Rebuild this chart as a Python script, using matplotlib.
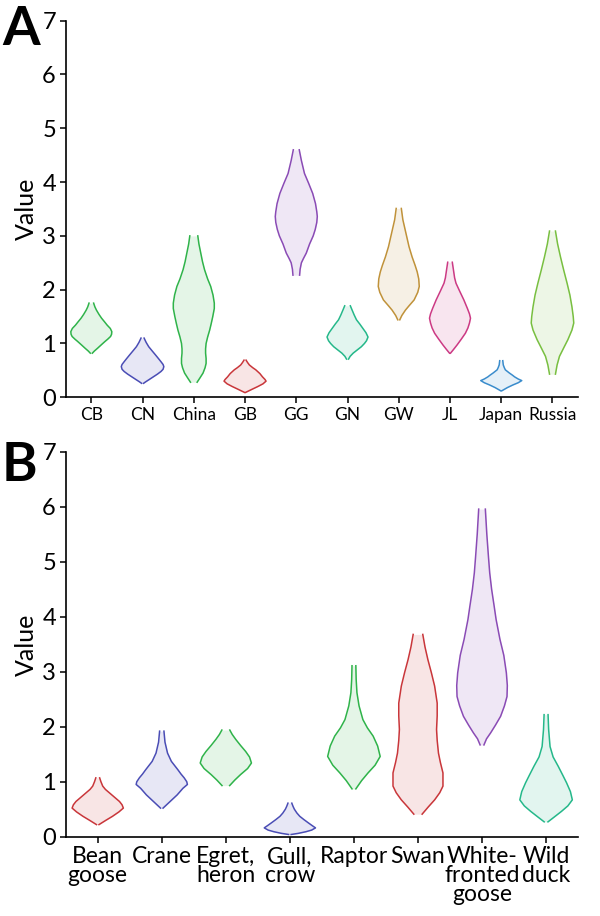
import numpy as np
import matplotlib
matplotlib.use('Agg')
import matplotlib.pyplot as plt

plt.rcParams['font.family'] = ['Lato', 'DejaVu Sans']

# panel A: sites
a_cats = ['CB', 'CN', 'China', 'GB', 'GG', 'GN', 'GW', 'JL', 'Japan', 'Russia']
a_colors = ['#2fb34a', '#4a4db5', '#2fb34a', '#c9363a', '#8a4bb5',
            '#25b88a', '#c0923a', '#cc3a84', '#3a8ccc', '#78bf40']
# violin outlines: value levels and half widths
a_y = [
    [1.75, 1.68, 1.62, 1.54, 1.47, 1.40, 1.34, 1.28, 1.22, 1.17, 1.13, 1.08, 1.04, 0.98, 0.91, 0.86, 0.82],
    [1.10, 1.02, 0.94, 0.87, 0.79, 0.72, 0.66, 0.61, 0.57, 0.52, 0.48, 0.43, 0.38, 0.33, 0.29, 0.26],
    [3.00, 2.85, 2.68, 2.52, 2.37, 2.20, 2.06, 1.90, 1.75, 1.65, 1.50, 1.37, 1.25, 1.12, 1.00, 0.90,
     0.82, 0.72, 0.63, 0.55, 0.45, 0.36, 0.28],
    [0.69, 0.645, 0.60, 0.55, 0.51, 0.44, 0.38, 0.33, 0.30, 0.25, 0.20, 0.15, 0.09],
    [4.60, 4.40, 4.16, 3.98, 3.79, 3.60, 3.45, 3.36, 3.25, 3.12, 3.00, 2.85, 2.68, 2.58, 2.50, 2.38, 2.27],
    [1.70, 1.62, 1.53, 1.44, 1.36, 1.28, 1.20, 1.12, 1.05, 1.00, 0.94, 0.88, 0.82, 0.76, 0.71],
    [3.51, 3.30, 3.05, 2.80, 2.61, 2.45, 2.33, 2.20, 2.06, 1.95, 1.81, 1.70, 1.62, 1.52, 1.44],
    [2.51, 2.35, 2.22, 2.12, 1.97, 1.81, 1.65, 1.55, 1.47, 1.38, 1.29, 1.19, 1.08, 0.97, 0.89, 0.82],
    [0.68, 0.60, 0.55, 0.51, 0.45, 0.41, 0.38, 0.34, 0.31, 0.27, 0.23, 0.18, 0.12],
    [3.09, 2.85, 2.61, 2.36, 2.12, 1.90, 1.68, 1.50, 1.38, 1.25, 1.07, 0.92, 0.76, 0.60, 0.43],
]
a_w = [
    [0.045, 0.07, 0.10, 0.15, 0.20, 0.26, 0.31, 0.37, 0.40, 0.395, 0.375, 0.32, 0.27, 0.20, 0.12, 0.06, 0.02],
    [0.03, 0.07, 0.12, 0.18, 0.25, 0.31, 0.36, 0.40, 0.415, 0.40, 0.36, 0.29, 0.21, 0.13, 0.065, 0.02],
    [0.078, 0.10, 0.136, 0.17, 0.21, 0.27, 0.33, 0.375, 0.40, 0.40, 0.37, 0.34, 0.31, 0.27, 0.24, 0.23,
     0.23, 0.24, 0.24, 0.22, 0.18, 0.12, 0.065],
    [0.02, 0.05, 0.085, 0.15, 0.21, 0.29, 0.34, 0.39, 0.41, 0.35, 0.25, 0.14, 0.01],
    [0.058, 0.10, 0.16, 0.24, 0.32, 0.375, 0.40, 0.41, 0.40, 0.37, 0.33, 0.26, 0.195, 0.14, 0.10, 0.075, 0.065],
    [0.055, 0.09, 0.13, 0.175, 0.24, 0.30, 0.36, 0.40, 0.37, 0.33, 0.27, 0.19, 0.11, 0.05, 0.02],
    [0.05, 0.08, 0.14, 0.20, 0.26, 0.32, 0.36, 0.39, 0.40, 0.37, 0.30, 0.20, 0.13, 0.06, 0.02],
    [0.045, 0.07, 0.09, 0.117, 0.19, 0.27, 0.34, 0.38, 0.40, 0.38, 0.35, 0.30, 0.22, 0.136, 0.07, 0.01],
    [0.03, 0.04, 0.06, 0.08, 0.16, 0.22, 0.26, 0.33, 0.40, 0.33, 0.23, 0.12, 0.01],
    [0.058, 0.10, 0.156, 0.22, 0.285, 0.34, 0.38, 0.405, 0.415, 0.38, 0.30, 0.22, 0.136, 0.09, 0.058],
]

# panel B: host groups
b_cats = ['Bean\ngoose', 'Crane', 'Egret,\nheron', 'Gull,\ncrow', 'Raptor',
          'Swan', 'White-\nfronted\ngoose', 'Wild\nduck']
b_colors = ['#c9363a', '#4a4db5', '#2fb34a', '#4a4db5', '#2fb34a',
            '#c9363a', '#8a4bb5', '#25b88a']
b_y = [
    [1.07, 1.00, 0.92, 0.86, 0.80, 0.72, 0.64, 0.58, 0.52, 0.45, 0.37, 0.30, 0.22],
    [1.92, 1.72, 1.52, 1.37, 1.22, 1.14, 1.07, 1.00, 0.95, 0.88, 0.76, 0.64, 0.52],
    [1.94, 1.86, 1.77, 1.66, 1.55, 1.45, 1.34, 1.24, 1.13, 1.03, 0.93],
    [0.61, 0.55, 0.50, 0.43, 0.37, 0.31, 0.25, 0.20, 0.16, 0.12, 0.09, 0.06, 0.04],
    [3.11, 2.86, 2.62, 2.38, 2.13, 1.98, 1.83, 1.65, 1.46, 1.30, 1.16, 1.02, 0.87],
    [3.68, 3.45, 3.22, 2.98, 2.74, 2.43, 2.20, 1.95, 1.75, 1.52, 1.35, 1.16, 0.92, 0.80, 0.67, 0.54, 0.41],
    [5.96, 5.50, 5.10, 4.80, 4.50, 4.19, 3.95, 3.59, 3.30, 2.98, 2.75, 2.55, 2.38, 2.19, 2.03, 1.89,
     1.78, 1.67],
    [2.22, 1.95, 1.64, 1.45, 1.28, 1.12, 0.98, 0.82, 0.67, 0.56, 0.46, 0.36, 0.27],
]
b_w = [
    [0.03, 0.05, 0.078, 0.12, 0.18, 0.26, 0.34, 0.38, 0.40, 0.33, 0.23, 0.13, 0.02],
    [0.034, 0.05, 0.09, 0.15, 0.25, 0.30, 0.35, 0.39, 0.40, 0.33, 0.24, 0.13, 0.02],
    [0.062, 0.10, 0.155, 0.23, 0.31, 0.37, 0.40, 0.34, 0.23, 0.14, 0.06],
    [0.03, 0.05, 0.07, 0.11, 0.155, 0.22, 0.29, 0.35, 0.40, 0.34, 0.25, 0.13, 0.02],
    [0.03, 0.035, 0.047, 0.08, 0.14, 0.21, 0.30, 0.37, 0.41, 0.33, 0.22, 0.12, 0.03],
    [0.075, 0.11, 0.155, 0.21, 0.26, 0.30, 0.30, 0.29, 0.30, 0.32, 0.35, 0.39, 0.39, 0.34, 0.26, 0.16, 0.065],
    [0.052, 0.075, 0.10, 0.12, 0.15, 0.19, 0.22, 0.28, 0.34, 0.38, 0.395, 0.39, 0.35, 0.29, 0.21, 0.135,
     0.07, 0.03],
    [0.031, 0.04, 0.062, 0.11, 0.19, 0.26, 0.32, 0.38, 0.41, 0.34, 0.24, 0.13, 0.03],
]

fig = plt.figure(figsize=(6, 9.16), dpi=100)
ax1 = fig.add_axes([0.1095, 0.5663, 0.854, 0.4111])
ax2 = fig.add_axes([0.1095, 0.0866, 0.854, 0.42])


def draw_panel(ax, cats, colors, ys, ws, labsize):
    for i, (y, w, c) in enumerate(zip(ys, ws, colors)):
        y = np.array(y)
        w = np.array(w)
        ax.fill_betweenx(y, i - w, i + w, color=c, alpha=0.13, lw=0)
        ax.plot(i - w, y, color=c, lw=1.1, solid_joinstyle='round')
        ax.plot(i + w, y, color=c, lw=1.1, solid_joinstyle='round')
    ax.set_xlim(-0.5, len(cats) - 0.5)
    ax.set_ylim(0, 7)
    ax.set_xticks(range(len(cats)))
    ax.set_xticklabels(cats, fontsize=labsize, linespacing=0.88)
    ax.set_yticks(range(8))
    ax.tick_params(axis='y', labelsize=17, length=4, width=1.1, pad=3)
    ax.tick_params(axis='x', length=4, width=1.1, pad=3)
    ax.spines['top'].set_visible(False)
    ax.spines['right'].set_visible(False)
    ax.spines['left'].set_linewidth(1.2)
    ax.spines['bottom'].set_linewidth(1.2)
    ax.set_ylabel('Value', fontsize=18, labelpad=3)


draw_panel(ax1, a_cats, a_colors, a_y, a_w, 12.5)
draw_panel(ax2, b_cats, b_colors, b_y, b_w, 16.5)

fig.text(0.003, 0.995, 'A', fontsize=39, fontweight='bold', va='top', ha='left')
fig.text(0.003, 0.519, 'B', fontsize=39, fontweight='bold', va='top', ha='left')

fig.savefig('out.png', dpi=100)
